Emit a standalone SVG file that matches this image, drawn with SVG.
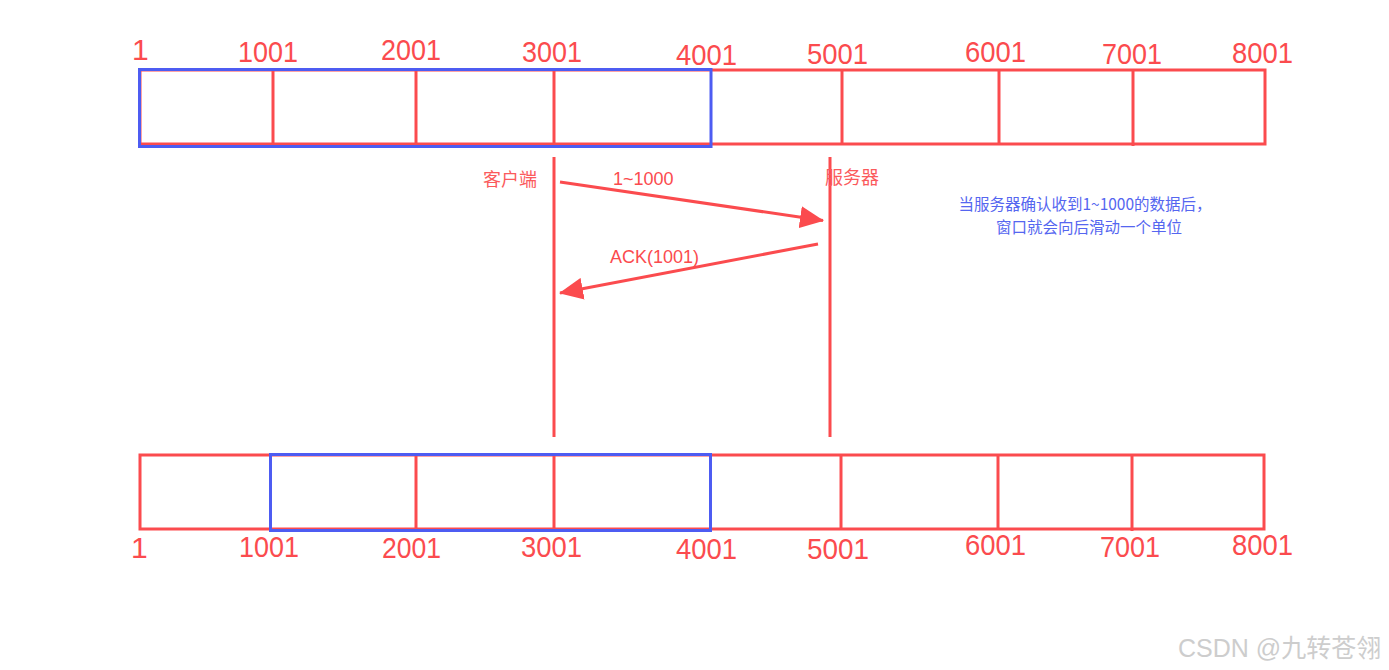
<svg xmlns="http://www.w3.org/2000/svg" width="1389" height="670" viewBox="0 0 1389 670">
<defs>
<style>
.r{fill:none;stroke:#fb4b4e;stroke-width:3}
.b{fill:none;stroke:#4d5cf2;stroke-width:3}
.num{font-family:"Liberation Sans","Noto Sans",sans-serif;font-size:30px;fill:#fb4b4e}
.lbl{font-family:"Liberation Sans","Noto Sans CJK SC",sans-serif;font-size:18px;fill:#fb4b4e}
.cn{font-family:"Noto Sans CJK SC",sans-serif;font-size:18px;fill:#fb5a5c}
.note{font-family:"Noto Sans CJK SC",sans-serif;font-size:15.5px;fill:#5566f0}
.wm{font-family:"Liberation Sans","Noto Sans CJK SC",sans-serif;font-size:25px;fill:#cdcdcd}
</style>
<marker id="big" viewBox="0 0 24 22" refX="23" refY="11" markerWidth="24" markerHeight="22" orient="auto" markerUnits="userSpaceOnUse">
<path d="M0,0 L24,11 L0,22 z" fill="#fb4b4e"/>
</marker>
</defs>

<g id="top-row">
<rect class="r" x="140" y="70" width="1125" height="74"/>
<line class="r" x1="273" y1="70" x2="273" y2="144"/>
<line class="r" x1="416" y1="70" x2="416" y2="144"/>
<line class="r" x1="554" y1="70" x2="554" y2="144"/>
<line class="r" x1="842" y1="70" x2="842" y2="144"/>
<line class="r" x1="999" y1="70" x2="999" y2="144"/>
<line class="r" x1="1133" y1="70" x2="1133" y2="146"/>
<rect class="b" x="139.5" y="69.5" width="571.5" height="77"/>
<text class="num" x="132" y="60">1</text>
<text class="num" x="238" y="62" textLength="60" lengthAdjust="spacingAndGlyphs">1001</text>
<text class="num" x="381" y="60" textLength="60" lengthAdjust="spacingAndGlyphs">2001</text>
<text class="num" x="522" y="62" textLength="60" lengthAdjust="spacingAndGlyphs">3001</text>
<text class="num" x="676" y="65" textLength="61" lengthAdjust="spacingAndGlyphs">4001</text>
<text class="num" x="807" y="64" textLength="61" lengthAdjust="spacingAndGlyphs">5001</text>
<text class="num" x="965" y="62" textLength="61" lengthAdjust="spacingAndGlyphs">6001</text>
<text class="num" x="1102" y="64" textLength="60" lengthAdjust="spacingAndGlyphs">7001</text>
<text class="num" x="1232" y="63" textLength="61" lengthAdjust="spacingAndGlyphs">8001</text>
</g>

<g id="client">
<line class="r" x1="554" y1="157" x2="554" y2="437"/>
<text class="cn" x="483" y="186">客户端</text>
</g>

<g id="server">
<line class="r" x1="830" y1="157" x2="830" y2="437"/>
<text class="cn" x="825" y="184">服务器</text>
</g>

<g id="connectors">
<line x1="560" y1="182" x2="823" y2="220.5" stroke="#fb4b4e" stroke-width="3" marker-end="url(#big)"/>
<text class="lbl" x="613" y="185">1~1000</text>
<line x1="818" y1="244" x2="560" y2="293" stroke="#fb4b4e" stroke-width="3" marker-end="url(#big)"/>
<text class="lbl" x="610" y="263">ACK(1001)</text>
</g>

<g id="note">
<text class="note" x="1085" y="210" text-anchor="middle">当服务器确认收到1~1000的数据后，</text>
<text class="note" x="1089" y="233" text-anchor="middle">窗口就会向后滑动一个单位</text>
</g>

<g id="bottom-row">
<rect class="r" x="140" y="455" width="1124" height="74"/>
<line class="r" x1="416" y1="455" x2="416" y2="529"/>
<line class="r" x1="554" y1="455" x2="554" y2="529"/>
<line class="r" x1="841" y1="455" x2="841" y2="529"/>
<line class="r" x1="998" y1="455" x2="998" y2="529"/>
<line class="r" x1="1132" y1="455" x2="1132" y2="531"/>
<rect class="b" x="270.5" y="454.5" width="440" height="76"/>
<text class="num" x="131" y="558">1</text>
<text class="num" x="239" y="557" textLength="60" lengthAdjust="spacingAndGlyphs">1001</text>
<text class="num" x="382" y="558" textLength="59" lengthAdjust="spacingAndGlyphs">2001</text>
<text class="num" x="521" y="557" textLength="61" lengthAdjust="spacingAndGlyphs">3001</text>
<text class="num" x="676" y="559" textLength="61" lengthAdjust="spacingAndGlyphs">4001</text>
<text class="num" x="807" y="559" textLength="62" lengthAdjust="spacingAndGlyphs">5001</text>
<text class="num" x="965" y="555" textLength="61" lengthAdjust="spacingAndGlyphs">6001</text>
<text class="num" x="1100" y="557" textLength="60" lengthAdjust="spacingAndGlyphs">7001</text>
<text class="num" x="1232" y="555" textLength="61" lengthAdjust="spacingAndGlyphs">8001</text>
</g>

<text class="wm" x="1178" y="657">CSDN @九转苍翎</text>
</svg>
